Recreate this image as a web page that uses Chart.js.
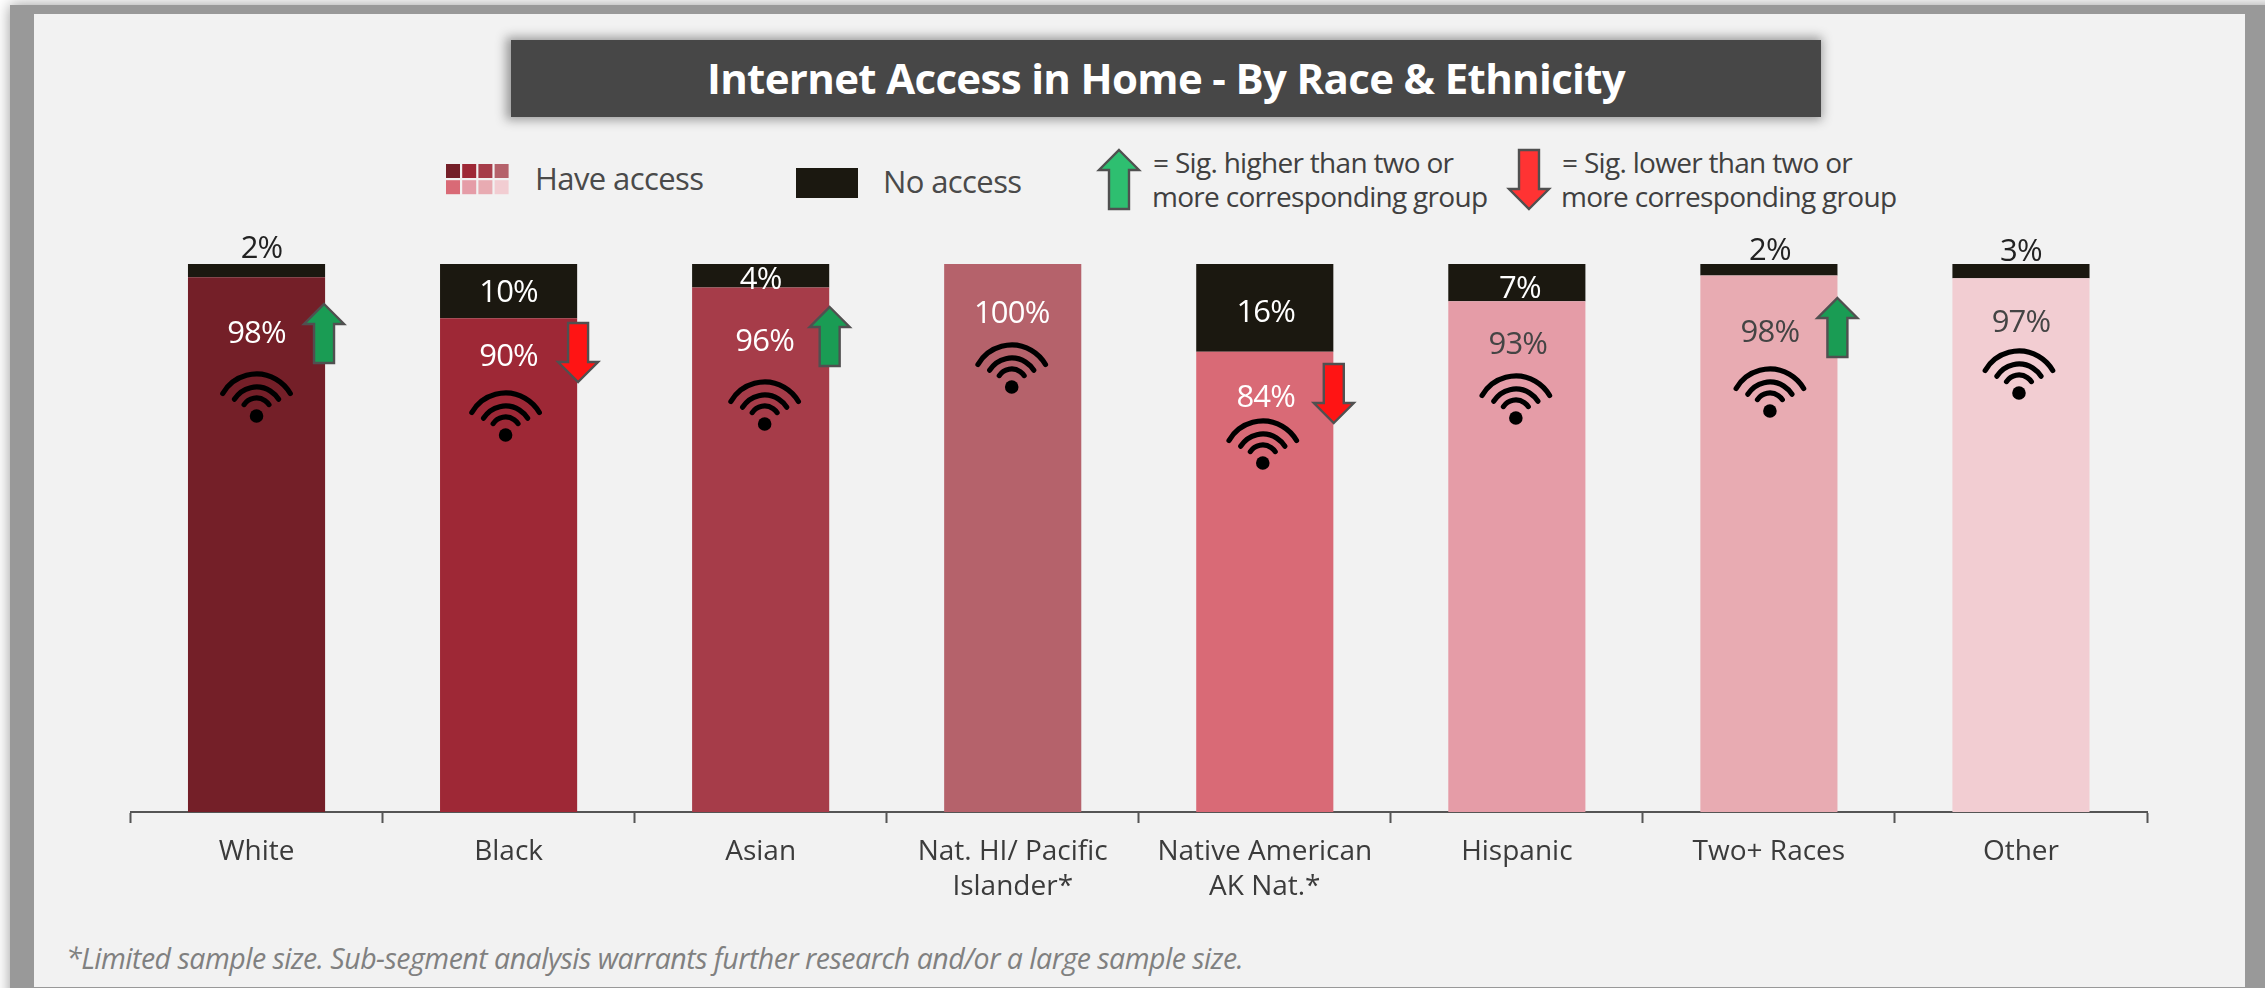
<!DOCTYPE html>
<html lang="en">
<head>
    <meta charset="UTF-8">
    <title>Internet Access in Home - By Race &amp; Ethnicity</title>
    <script src="https://cdn.jsdelivr.net/npm/chart.js"></script>
    <style>
        html, body { margin: 0; padding: 0; width: 2265px; height: 988px; overflow: hidden; background: #fff; font-family: "Open Sans", sans-serif; }
        #frame { position: absolute; left: 10px; top: 5px; width: 2300px; height: 1010px; background: #999; box-shadow: 0 0 14px #999; }
        #panel { position: absolute; left: 34px; top: 14px; width: 2211px; height: 973px; background: #f2f2f2; }
        #chart-container { position: absolute; left: 0; top: 0; width: 2265px; height: 988px; }
        #title { position: absolute; left: 511px; top: 40px; width: 1310px; height: 77px; line-height: 76px; background: #474747; color: #fff; text-align: center; font-size: 42px; font-weight: 700; letter-spacing: -0.66px; box-shadow: -2px 0 10px 3px #999; }
        .txt { position: absolute; color: #4a4a4a; white-space: nowrap; font-size: 31px; letter-spacing: -0.6px; }
        .sig { font-size: 28px; letter-spacing: -0.7px; color: #404040; }
        #footnote { position: absolute; left: 66px; top: 939px; font-size: 28.5px; font-style: italic; color: #808080; white-space: nowrap; letter-spacing: -0.5px; }
    </style>
</head>
<body>
    <div id="frame"></div>
    <div id="panel"></div>
    <div id="title">Internet Access in Home - By Race &amp; Ethnicity</div>
    <div class="txt" style="left:535px;top:157px">Have access</div>
    <div class="txt" style="left:883px;top:160px">No access</div>
    <div class="txt sig" style="left:1153px;top:143px">= Sig. higher than two or</div>
    <div class="txt sig" style="left:1152px;top:177px">more corresponding group</div>
    <div class="txt sig" style="left:1562px;top:143px">= Sig. lower than two or</div>
    <div class="txt sig" style="left:1561px;top:177px">more corresponding group</div>
    <div id="footnote">*Limited sample size. Sub-segment analysis warrants further research and/or a large sample size.</div>
    <div id="chart-container">
        <canvas id="barChart" width="2265" height="988"></canvas>
    </div>

    <script>
        const categories = ["White", "Black", "Asian", ["Nat. HI/ Pacific", "Islander*"], ["Native American", "AK Nat.*"], "Hispanic", "Two+ Races", "Other"];
        const haveAccess = [97.6, 90.1, 95.7, 100, 84, 93.2, 97.9, 97.4];
        const noAccess = [2.4, 9.9, 4.3, 0, 16, 6.8, 2.1, 2.6];
        const haveLabels = ["98%", "90%", "96%", "100%", "84%", "93%", "98%", "97%"];
        const noLabels = ["2%", "10%", "4%", "", "16%", "7%", "2%", "3%"];
        const sigFlags = ["up", "down", "up", "", "down", "", "up", ""];

        const barColors = ["#741f28", "#9e2836", "#a63c49", "#b5626b", "#d96a76", "#e59ca7", "#e8abb2", "#f2cdd2"];
        const noColor = "#1b1810";

        // hand placed annotations, y is px from the top of the plot, x is px from the bar centre
        const haveLabelPos = [[0, 68], [0, 91], [4, 76], [-1, 48], [1, 132], [1, 79], [1, 67], [0, 57]];
        const noLabelPos = [[5, -17], [0, 27], [0, 14], [0, 0], [1, 47], [3, 23], [1, -15], [0, -14]];
        const wifiPos = [[0, 108], [-3, 127], [4, 116], [-1, 79], [-2, 155], [-1, 110], [1, 103], [-2, 85]];
        const arrowPos = [[67.5, 40], [69.5, 59], [69, 43], [0, 0], [69, 100], [0, 0], [68.5, 34], [0, 0]];

        function drawArrow(ctx, x, y, dir, fill) {
            // y is the top of the arrow, arrow is 59 tall
            const h = 59, head = 20, half = 20, shaft = 10;
            ctx.save();
            ctx.translate(x, dir === "up" ? y : y + h);
            if (dir !== "up") ctx.scale(1, -1);
            ctx.beginPath();
            ctx.moveTo(0, 0);
            ctx.lineTo(half, head);
            ctx.lineTo(shaft, head);
            ctx.lineTo(shaft, h);
            ctx.lineTo(-shaft, h);
            ctx.lineTo(-shaft, head);
            ctx.lineTo(-half, head);
            ctx.closePath();
            ctx.fillStyle = fill;
            ctx.fill();
            ctx.lineWidth = 2.4;
            ctx.strokeStyle = "#505050";
            ctx.stroke();
            ctx.restore();
        }

        function drawWifi(ctx, x, top) {
            const cy = top + 41;
            ctx.save();
            ctx.strokeStyle = "#000";
            ctx.lineWidth = 5.2;
            ctx.lineCap = "round";
            [[39, 60], [26, 58], [15, 56]].forEach(([r, deg]) => {
                const a = deg * Math.PI / 180;
                ctx.beginPath();
                ctx.arc(x, cy, r, -Math.PI / 2 - a, -Math.PI / 2 + a);
                ctx.stroke();
            });
            ctx.beginPath();
            ctx.arc(x, top + 44, 6.8, 0, Math.PI * 2);
            ctx.fillStyle = "#000";
            ctx.fill();
            ctx.restore();
        }

        const annotations = {
            id: "annotations",
            afterDatasetsDraw(chart) {
                const ctx = chart.ctx;
                const bars = chart.getDatasetMeta(0).data;
                const top = chart.scales.y.getPixelForValue(100);
                ctx.save();
                ctx.textAlign = "center";
                ctx.textBaseline = "middle";
                ctx.font = "31px 'Open Sans'";
                ctx.letterSpacing = "-0.8px";
                bars.forEach((bar, i) => {
                    ctx.fillStyle = i < 5 ? "#fff" : "#444";
                    ctx.fillText(haveLabels[i], bar.x + haveLabelPos[i][0], top + haveLabelPos[i][1] + 2);
                    const lp = noLabelPos[i];
                    ctx.fillStyle = lp[1] < 0 ? "#222" : "#fff";
                    if (noLabels[i]) ctx.fillText(noLabels[i], bar.x + lp[0], top + lp[1] + 2);
                    drawWifi(ctx, bar.x + wifiPos[i][0], top + wifiPos[i][1]);
                    if (sigFlags[i]) {
                        const grad = ctx.createLinearGradient(bar.x + arrowPos[i][0] - 10, 0, bar.x + arrowPos[i][0] + 10, 0);
                        if (sigFlags[i] === "up") {
                            grad.addColorStop(0, "#1a9c54");
                            grad.addColorStop(0.5, "#1f9f58");
                            grad.addColorStop(0.55, "#2eb86c");
                            grad.addColorStop(1, "#2fbd6f");
                        } else {
                            grad.addColorStop(0, "#ff1414");
                            grad.addColorStop(1, "#ff3030");
                        }
                        drawArrow(ctx, bar.x + arrowPos[i][0], top + arrowPos[i][1], sigFlags[i], grad);
                    }
                });
                // legend marks
                barColors.forEach((c, i) => {
                    ctx.fillStyle = c;
                    ctx.fillRect(446 + (i % 4) * 16.2, 164 + Math.floor(i / 4) * 16.2, 14, 14);
                });
                ctx.fillStyle = noColor;
                ctx.fillRect(796, 168, 62, 30);
                drawArrow(ctx, 1119, 150, "up", "#2ebf70");
                drawArrow(ctx, 1529, 150, "down", "#ff3333");
                ctx.restore();
            }
        };

        new Chart(document.getElementById("barChart"), {
            type: "bar",
            data: {
                labels: categories,
                datasets: [
                    { label: "Have access", data: haveAccess, backgroundColor: barColors },
                    { label: "No access", data: noAccess, backgroundColor: noColor }
                ]
            },
            options: {
                responsive: false,
                animation: false,
                layout: { padding: { left: 130.5, right: 118, top: 264, bottom: 0 } },
                plugins: { legend: { display: false }, tooltip: { enabled: false }, title: { display: false } },
                datasets: { bar: { categoryPercentage: 1, barPercentage: 0.544 } },
                scales: {
                    x: {
                        stacked: true,
                        afterFit: s => { s.height = 176; },
                        border: { color: "#555", width: 2 },
                        grid: { drawOnChartArea: false, offset: true, tickLength: 11, tickColor: "#555", tickWidth: 2 },
                        ticks: { autoSkip: false, maxRotation: 0, padding: 12, color: "#3b3b3b", font: { family: "Open Sans", size: 28, lineHeight: 1.25 } }
                    },
                    y: { stacked: true, display: false, min: 0, max: 100 }
                }
            },
            plugins: [annotations]
        });
    </script>
</body>
</html>
